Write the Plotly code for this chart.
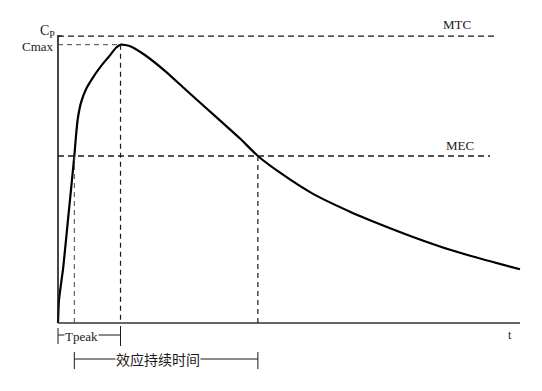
import numpy as np
import plotly.graph_objects as go

# ---- data (time in h, concentration in arbitrary units) ----
time_h = [0, 0.032, 0.172, 0.334, 0.53, 0.584, 0.640, 0.747, 0.909, 1.127, 1.396,
          1.666, 1.883, 2.03, 2.18, 2.40, 2.82, 3.47, 4.12, 4.77, 5.42, 5.91, 6.49,
          7.21, 8.28, 9.48, 10.23, 11.33, 12.40, 13.47, 15.0]
conc = [0, 0.83, 2.02, 3.82, 6.0, 6.72, 7.32, 7.92, 8.40, 8.81, 9.23,
        9.59, 9.89, 10.0, 9.99, 9.92, 9.63, 9.06, 8.41, 7.76, 7.12, 6.63, 6.0,
        5.40, 4.64, 4.00, 3.65, 3.17, 2.75, 2.39, 1.93]
MTC = 10.31
MEC = 6.0
level_labels = ["MTC", "MEC"]
y_tick_text = ["C<sub>P</sub>", "Cmax"]
x_label = "t"
tpeak_label = "Tpeak"
duration_label = "效应持续时间"

t = np.array(time_h)
c = np.array(conc)
i_peak = int(np.argmax(c))
t_peak, c_max = t[i_peak], c[i_peak]
t_rise = float(np.interp(MEC, c[:i_peak + 1], t[:i_peak + 1]))
t_fall = float(np.interp(MEC, c[i_peak:][::-1], t[i_peak:][::-1]))

# ---- layout geometry (page pixel -> data); page body has an 8px margin ----
OFF = 8
W, H = 542 - 2 * OFF, 391 - 2 * OFF
X0PX, XPX_PER = 58, 30.8      # page px of t=0, px per hour
Y0PX, YPX_PER = 323, 27.83    # page px of c=0, px per unit
xr = [-(X0PX - OFF) / XPX_PER, (W - (X0PX - OFF)) / XPX_PER]
yr = [((Y0PX - OFF) - H) / YPX_PER, (Y0PX - OFF) / YPX_PER]
def tx(px):
    return (px - X0PX) / XPX_PER
def py_paper(py):
    return 1 - (py - OFF) / H

INK = "#1a1a1a"
SERIF = "Liberation Serif, Times New Roman, serif"
CJK = "Noto Sans CJK SC, sans-serif"

fig = go.Figure()
fig.add_trace(go.Scatter(x=t, y=c, mode="lines",
                         line=dict(color="#000", width=2.2, shape="spline", smoothing=0.5),
                         hoverinfo="skip", showlegend=False))

shapes = []
def line(x0, y0, x1, y1, dash="solid", width=1.2, color=INK, yref="y"):
    shapes.append(dict(type="line", xref="x", yref=yref, x0=x0, y0=y0, x1=x1, y1=y1,
                       line=dict(color=color, width=width, dash=dash)))

# axes
line(0, 0, 0, MTC + 0.04, width=1.6)
line(0, 0, t[-1], 0, width=1.3, color="#333")
line(0, MTC, tx(62), MTC, width=1.3)
# reference levels
line(0, MTC, tx(498), MTC, dash="6px,4px", width=1.3)
line(0, MEC, tx(490), MEC, dash="6px,4px", width=1.3)
line(0, c_max, t_peak, c_max, dash="5px,4px", width=1.0, color="#444")
# verticals
line(t_rise, MEC, t_rise, 0, dash="5px,4px", width=1.0, color="#444")
line(t_peak, c_max, t_peak, 0, dash="5px,4px", width=1.2)
line(t_fall, MEC, t_fall, 0, dash="5px,4px", width=1.2)
# Tpeak bracket
line(0, py_paper(328), 0, py_paper(344), width=1.0, yref="paper")
line(0, py_paper(335), t_peak, py_paper(335), width=1.0, yref="paper")
line(t_peak, py_paper(326), t_peak, py_paper(346), width=1.0, yref="paper")
# duration bracket
line(t_rise, py_paper(352), t_rise, py_paper(369), width=1.0, yref="paper")
line(t_rise, py_paper(359), t_fall, py_paper(359), width=1.0, yref="paper")
line(t_fall, py_paper(352), t_fall, py_paper(369), width=1.0, yref="paper")

ann = []
def text(x, y, s, xanchor="center", yanchor="middle", size=13, font=SERIF, yref="y",
         bg=None, yshift=0, xshift=0):
    d = dict(x=x, y=y, xref="x", yref=yref, text=s, showarrow=False,
             xanchor=xanchor, yanchor=yanchor, yshift=yshift, xshift=xshift,
             font=dict(family=font, size=size, color=INK))
    if bg:
        d["bgcolor"] = bg
        d["borderpad"] = 0
    ann.append(d)

text(tx(457), MTC, level_labels[0], yanchor="bottom", yshift=2)
text(tx(459.5), MEC, level_labels[1], yanchor="bottom", yshift=1)
text(0, MTC, y_tick_text[0], xanchor="right", xshift=-1, yshift=5, size=14)
text(0, c_max, y_tick_text[1], xanchor="right", xshift=-2, yshift=-2)
text(tx(510), 0, x_label, yanchor="top", yshift=-3, size=12)
text(tx(64), py_paper(336), tpeak_label, xanchor="left", yref="paper", bg="white", size=13)
text(tx(158), py_paper(359), duration_label, yref="paper", bg="white", size=14, font=CJK)

fig.update_layout(
    width=W, height=H, margin=dict(l=0, r=0, t=0, b=0),
    paper_bgcolor="white", plot_bgcolor="white",
    xaxis=dict(range=xr, visible=False, fixedrange=True),
    yaxis=dict(range=yr, visible=False, fixedrange=True),
    shapes=shapes, annotations=ann, showlegend=False,
)
fig.write_html("out.html")
